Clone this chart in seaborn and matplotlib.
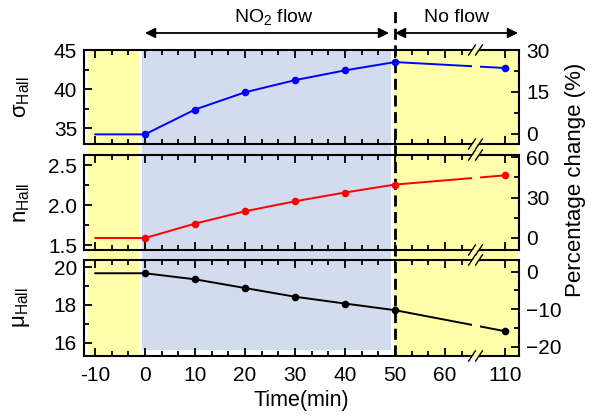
import numpy as np
import pandas as pd
import matplotlib
matplotlib.use("Agg")
import matplotlib.pyplot as plt
import matplotlib.transforms as mtrans
from matplotlib.patches import Rectangle, Polygon, FancyArrowPatch
from matplotlib.lines import Line2D
from matplotlib.ticker import FixedLocator, MultipleLocator
import seaborn as sns

# ---------------- data ----------------
time_min = [-10, 0, 10, 20, 30, 40, 50, 110]
sigma_hall = [34.23, 34.23, 37.4, 39.6, 41.15, 42.4, 43.46, 42.7]
n_hall = [1.59, 1.59, 1.77, 1.925, 2.05, 2.16, 2.26, 2.375]
mu_hall = [19.67, 19.67, 19.35, 18.89, 18.43, 18.07, 17.72, 16.61]

x_tick_times = [-10, 0, 10, 20, 30, 40, 50, 60, 110]
x_tick_labels = ["-10", "0", "10", "20", "30", "40", "50", "60", "110"]

phase_start = 0      # NO2 flow on
phase_stop = 50      # NO2 flow off
phase_labels = ["NO$_2$ flow", "No flow"]

y_labels = ["σ$_{\\mathrm{Hall}}$", "n$_{\\mathrm{Hall}}$", "μ$_{\\mathrm{Hall}}$"]
right_label = "Percentage change (%)"
x_label = "Time(min)"

left_ticks = [[35, 40, 45], [1.5, 2.0, 2.5], [16, 18, 20]]
right_ticks = [[0, 15, 30], [0, 30, 60], [-20, -10, 0]]

# ---------------- style ----------------
sns.set_theme(style="ticks")
plt.rcParams["font.family"] = ["Liberation Sans", "DejaVu Sans"]
plt.rcParams["mathtext.fontset"] = "custom"
plt.rcParams["mathtext.rm"] = "Liberation Sans"
plt.rcParams["mathtext.it"] = "Liberation Sans:italic"
plt.rcParams["mathtext.bf"] = "Liberation Sans:bold"
for k in ["text.color", "axes.labelcolor", "xtick.color", "ytick.color", "axes.edgecolor"]:
    plt.rcParams[k] = "black"

YELLOW = "#FFFFAA"
BLUE_BG = "#D2DCEE"
colors = ["#0000FF", "#FF0000", "#000000"]

left_lims = [(33.0, 45.0), (1.44, 2.63), (15.3, 20.37)]
right_lims = [(-3.6, 30.0), (-8.9, 61.5), (-22.5, 3.1)]
left_minor = [2.5, 0.25, 1.0]
right_minor = [7.5, 15, 5]

# broken axis: times after 60 min are compressed
def to_axis(t):
    t = np.asarray(t, dtype=float)
    return np.where(t <= 60, t, 60 + (t - 60) * 0.24)

fig = plt.figure(figsize=(5.92, 4.18), dpi=100)
W, H = 592, 418
ax_left_px, ax_right_px = 84, 519
panel_px = [(50, 144), (155, 250), (260, 356)]

axes = []
for (t, b) in panel_px:
    ax = fig.add_axes([ax_left_px / W, 1 - b / H, (ax_right_px - ax_left_px) / W, (b - t) / H])
    axes.append(ax)

xlim = (-12.2, 74.8)
BREAK_X = 66.1

df = pd.DataFrame({"time": time_min, "x": to_axis(time_min),
                   "sigma": sigma_hall, "n": n_hall, "mu": mu_hall})
cols = ["sigma", "n", "mu"]

for i, ax in enumerate(axes):
    ax.set_facecolor("none")
    ax.set_zorder(2)
    sns.lineplot(data=df, x="x", y=cols[i], ax=ax, color=colors[i], lw=1.4,
                 estimator=None, sort=False, zorder=2)
    sns.scatterplot(data=df.iloc[1:], x="x", y=cols[i], ax=ax, color=colors[i],
                    s=30, edgecolor=colors[i], linewidth=0, zorder=4)
    ax.set_xlim(*xlim)
    ax.set_ylim(*left_lims[i])
    ax.set_xticks(to_axis(x_tick_times))
    ax.xaxis.set_minor_locator(FixedLocator([v for v in np.arange(-10, 64, 10 / 3)
                                              if abs(round(v / 10) * 10 - v) > 0.1]))
    ax.set_yticks(left_ticks[i])
    ax.yaxis.set_minor_locator(MultipleLocator(left_minor[i]))
    if i == 2:
        ax.set_xticklabels(x_tick_labels)
        ax.set_xlabel(x_label, fontsize=15.5, labelpad=4)
    else:
        ax.set_xticklabels([])
        ax.set_xlabel("")
    ax.set_ylabel(y_labels[i], fontsize=16)
    ax.yaxis.set_label_coords(-0.12, 0.5)
    ax.tick_params(axis="x", which="both", direction="in", top=True, bottom=True,
                   width=1.3, color="black", labelsize=15, pad=7)
    ax.tick_params(axis="x", which="major", length=5.5)
    ax.tick_params(axis="x", which="minor", length=3.5)
    ax.tick_params(axis="y", which="both", direction="in", left=True, right=False,
                   width=1.3, color="black", labelsize=15, pad=5)
    ax.tick_params(axis="y", which="major", length=5.5)
    ax.tick_params(axis="y", which="minor", length=3.5)
    for s in ax.spines.values():
        s.set_linewidth(1.5)
        s.set_color("black")
        s.set_zorder(2.5)

    ax2 = ax.twinx()
    ax2.set_zorder(2.1)
    ax2.set_ylim(*right_lims[i])
    ax2.set_yticks(right_ticks[i])
    ax2.yaxis.set_minor_locator(MultipleLocator(right_minor[i]))
    ax2.tick_params(axis="y", which="both", direction="in", right=True, left=False,
                    width=1.3, color="black", labelsize=15, pad=5)
    ax2.tick_params(axis="y", which="major", length=5.5)
    ax2.tick_params(axis="y", which="minor", length=3.5)
    for s in ax2.spines.values():
        s.set_visible(False)
    ax2.grid(False)

    # axis break marks
    bt = mtrans.blended_transform_factory(ax.transData, ax.transAxes)
    ax.add_patch(Rectangle((BREAK_X - 0.8, 0.02), 1.6, 0.96, transform=bt,
                           facecolor=YELLOW, edgecolor="none", zorder=3))
    hh = 0.055
    for y in (0.0, 1.0):
        ax.add_patch(Polygon([(BREAK_X - 1.4, y - 0.02), (BREAK_X, y - 0.02),
                              (BREAK_X + 1.4, y + 0.02), (BREAK_X, y + 0.02)],
                             closed=True, transform=bt, facecolor=YELLOW,
                             edgecolor="none", zorder=3, clip_on=False))
        for dx in (-0.7, 0.7):
            ax.add_line(Line2D([BREAK_X + dx - 0.7, BREAK_X + dx + 0.7], [y - hh, y + hh],
                               transform=bt, color="black", lw=1.0, zorder=3.2,
                               clip_on=False))

# phase backgrounds spanning all panels
axb = axes[2]
fb = mtrans.blended_transform_factory(axb.transData, fig.transFigure)
y_top = 1 - 50 / H
y_bot = 1 - 356 / H
y_bot_blue = 1 - 350 / H
fig.add_artist(Rectangle((-11.4, y_bot), 10.2, y_top - y_bot, transform=fb,
                         facecolor=YELLOW, edgecolor="none", zorder=-1))
fig.add_artist(Rectangle((phase_start - 0.6, y_bot_blue), phase_stop - 0.8 - phase_start + 0.6,
                         y_top - y_bot_blue, transform=fb,
                         facecolor=BLUE_BG, edgecolor="none", zorder=-1))
fig.add_artist(Rectangle((phase_stop - 0.2, y_bot), 74.6 - phase_stop + 0.2, y_top - y_bot,
                         transform=fb, facecolor=YELLOW, edgecolor="none", zorder=-1))

# dashed boundary at flow stop
fig.add_artist(Line2D([phase_stop, phase_stop], [y_bot, 1 - 8 / H], transform=fb,
                      color="black", lw=2, ls=(0, (4, 2)), zorder=1))

# arrows and phase labels
y_arrow = 1 - 33 / H
y_text = 1 - 17 / H
arrow_kw = dict(arrowstyle="<|-|>", color="black", lw=1.3, mutation_scale=15,
                shrinkA=0, shrinkB=0)
fig.add_artist(FancyArrowPatch((phase_start, y_arrow), (phase_stop - 1.2, y_arrow),
                               transform=fb, **arrow_kw))
fig.add_artist(FancyArrowPatch((phase_stop, y_arrow), (74.6, y_arrow),
                               transform=fb, **arrow_kw))
fig.text(25.8, y_text, phase_labels[0], transform=fb, ha="center", va="center", fontsize=14)
fig.text(62.4, y_text, phase_labels[1], transform=fb, ha="center", va="center", fontsize=14)

fig.text(575 / W, 1 - 180 / H, right_label, rotation=90, ha="center", va="center", fontsize=16)

fig.savefig("out.png", dpi=100)
